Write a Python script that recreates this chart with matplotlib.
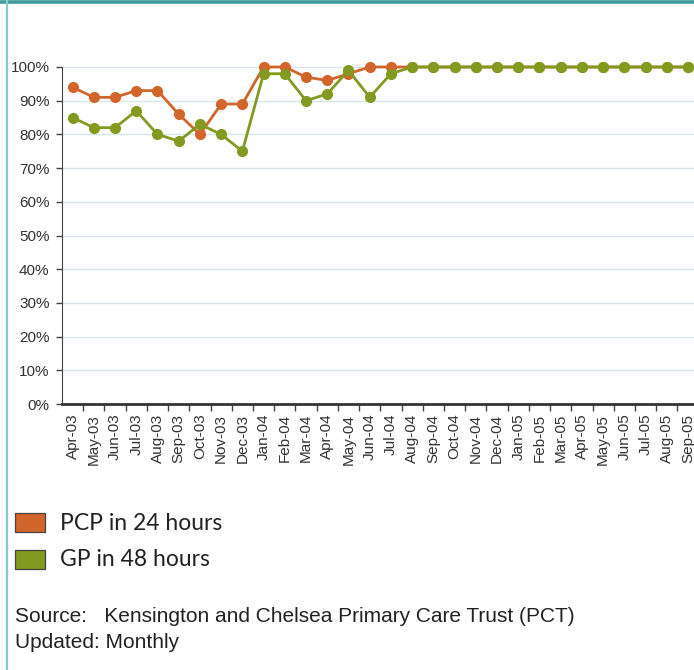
import matplotlib.pyplot as plt
from matplotlib.patches import Rectangle
from matplotlib.lines import Line2D

months = ['Apr-03', 'May-03', 'Jun-03', 'Jul-03', 'Aug-03', 'Sep-03', 'Oct-03', 'Nov-03',
          'Dec-03', 'Jan-04', 'Feb-04', 'Mar-04', 'Apr-04', 'May-04', 'Jun-04', 'Jul-04',
          'Aug-04', 'Sep-04', 'Oct-04', 'Nov-04', 'Dec-04', 'Jan-05', 'Feb-05', 'Mar-05',
          'Apr-05', 'May-05', 'Jun-05', 'Jul-05', 'Aug-05', 'Sep-05']
pcp_24h = [94, 91, 91, 93, 93, 86, 80, 89, 89, 100, 100, 97, 96, 98, 100, 100,
           100, 100, 100, 100, 100, 100, 100, 100, 100, 100, 100, 100, 100, 100]
gp_48h = [85, 82, 82, 87, 80, 78, 83, 80, 75, 98, 98, 90, 92, 99, 91, 98,
          100, 100, 100, 100, 100, 100, 100, 100, 100, 100, 100, 100, 100, 100]
y_ticks = [0, 10, 20, 30, 40, 50, 60, 70, 80, 90, 100]

orange = '#d2652b'
green = '#819a1f'
plt.rcParams['font.family'] = ['Liberation Sans', 'DejaVu Sans']

W, H = 694, 670
fig = plt.figure(figsize=(W / 100, H / 100), dpi=100)

# teal frame lines (top and left)
fig.add_artist(Line2D([0, 1], [1 - 1.5 / H, 1 - 1.5 / H], color='#3d9b9b', lw=2.6))
fig.add_artist(Line2D([7 / W, 7 / W], [0, 1], color='#86cccc', lw=1.6))

x0, x1 = 62, 698.6
y0, y1 = 404, 67
ax = fig.add_axes([x0 / W, 1 - y0 / H, (x1 - x0) / W, (y0 - y1) / H])

x = list(range(len(months)))
ax.plot(x, pcp_24h, color=orange, lw=2, marker='o', ms=7, clip_on=False, zorder=3)
ax.plot(x, gp_48h, color=green, lw=2, marker='o', ms=7, clip_on=False, zorder=4)

ax.set_xlim(-0.5, len(months) - 0.5)
ax.set_ylim(0, 100)
ax.set_yticks(y_ticks)
ax.set_yticklabels([f'{v}%' for v in y_ticks], fontsize=11, color='#333333')
ax.set_xticks(x)
ax.set_xticklabels(months, rotation=90, fontsize=11, color='#333333')
ax.set_xticks([i + 0.5 for i in x], minor=True)
ax.tick_params(axis='x', which='major', length=0, pad=7)
ax.tick_params(axis='x', which='minor', length=5, width=1, color='#444444')
ax.tick_params(axis='y', length=4, width=1, color='#444444', pad=5)
for v in y_ticks[1:]:
    ax.axhline(v, color='#d9e6ea', lw=1, zorder=1)
for s in ['top', 'right']:
    ax.spines[s].set_visible(False)
ax.spines['left'].set_color('#444444')
ax.spines['bottom'].set_color('#333333')
ax.spines['bottom'].set_linewidth(2)

# legend
for yy, c, lab in [(513, orange, 'PCP in 24 hours'), (550, green, 'GP in 48 hours')]:
    fig.add_artist(Rectangle((15 / W, 1 - (yy + 19) / H), 30 / W, 19 / H,
                             facecolor=c, edgecolor='#444444', lw=0.9))
    fig.text(60 / W, 1 - (yy + 10) / H, lab, fontsize=16.5, family='Lato',
             color='#222222', va='center')

fig.text(15 / W, 1 - 617 / H, 'Source:   Kensington and Chelsea Primary Care Trust (PCT)',
         fontsize=15, color='#222222', va='center')
fig.text(15 / W, 1 - 642 / H, 'Updated: Monthly',
         fontsize=15, color='#222222', va='center')

fig.savefig('out.png', dpi=100)
